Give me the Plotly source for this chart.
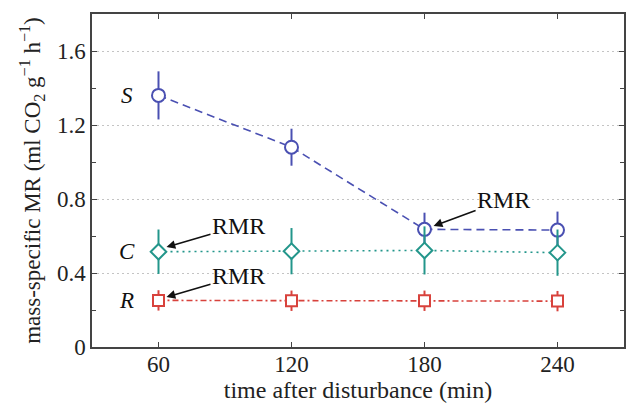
import plotly.graph_objects as go

times = [60, 120, 180, 240]
s_vals = [1.36, 1.08, 0.636, 0.632]
s_err = [0.13, 0.10, 0.09, 0.10]
c_vals = [0.515, 0.518, 0.522, 0.51]
c_err = [0.12, 0.125, 0.13, 0.125]
r_vals = [0.252, 0.25, 0.25, 0.248]
r_err = [0.055, 0.055, 0.055, 0.055]
x_ticks = [60, 120, 180, 240]
y_ticks = [0, 0.4, 0.8, 1.2, 1.6]
y_ticklabels = ["0", "0.4", "0.8", "1.2", "1.6"]

S_COL = "#4a50b2"
C_COL = "#23968b"
R_COL = "#d8423c"
FONT = "Liberation Serif"
TXT = "#222"

fig = go.Figure()

def add(vals, err, col, symbol, size, dash):
    fig.add_trace(go.Scatter(
        x=times, y=vals, mode="lines+markers",
        line=dict(color=col, width=1.6, dash=dash),
        marker=dict(symbol=symbol, size=size, color="white",
                    line=dict(color=col, width=2)),
        error_y=dict(type="data", array=err, visible=True, color=col,
                     thickness=2, width=0),
        showlegend=False, cliponaxis=False,
    ))

add(s_vals, s_err, S_COL, "circle", 13, "8px,5px")
add(c_vals, c_err, C_COL, "diamond", 12, "2px,4px")
add(r_vals, r_err, R_COL, "square", 11, "6px,3px,2px,3px")

# series labels
for name, yv in [("S", s_vals[0]), ("C", c_vals[0]), ("R", r_vals[0])]:
    fig.add_annotation(x=45.6, y=yv, text="<i>%s</i>" % name, showarrow=False,
                       font=dict(family=FONT, size=23, color="#111"))

# RMR arrows
for (xh, yh, ax, ay) in [(63.6, 0.54, 72, -21), (63.6, 0.27, 72, -21), (184.1, 0.654, 70, -26)]:
    fig.add_annotation(x=xh, y=yh, text="RMR", showarrow=True, ax=ax, ay=ay,
                       arrowhead=2, arrowsize=1.1, arrowwidth=1.6, arrowcolor="#111",
                       font=dict(family=FONT, size=24, color="#111"))

axis_common = dict(
    showline=True, linecolor="#444", linewidth=1.5, mirror="ticks",
    ticks="inside", tickcolor="#444", ticklen=5, tickwidth=1,
    tickfont=dict(family=FONT, size=23, color=TXT),
    zeroline=False, automargin=False,
)

fig.update_xaxes(
    range=[30, 270], tickvals=x_ticks, showgrid=False, ticklabelstandoff=-4,
    title=dict(text="time after disturbance (min)",
               font=dict(family=FONT, size=24, color=TXT), standoff=1),
    **axis_common,
)
fig.update_yaxes(
    range=[0, 1.8], tickvals=y_ticks, ticktext=y_ticklabels,
    showgrid=True, gridcolor="#c4c4c4", griddash="2px,3px", gridwidth=1,
    minor=dict(dtick=0.2, tick0=0, ticks="inside", ticklen=4, tickcolor="#444", showgrid=False),
    title=dict(text="mass-specific MR (ml CO<sub>2</sub> g<sup>−1</sup> h<sup>−1</sup>)",
               font=dict(family=FONT, size=23, color=TXT), standoff=10),
    **axis_common,
)

fig.update_layout(
    width=630, height=403,
    margin=dict(l=92, r=6, t=14, b=56),
    plot_bgcolor="white", paper_bgcolor="white",
)

fig.write_html("out.html", config={"displayModeBar": False},
               post_script="document.body.style.margin='0';")
